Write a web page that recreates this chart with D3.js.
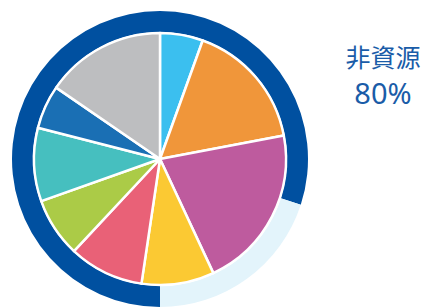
<!DOCTYPE html>
<html>
<head>
<meta charset="utf-8">
<script src="https://cdn.jsdelivr.net/npm/d3@7"></script>
<style>
  body { margin: 0; background: #fff; }
  svg { display: block; }
</style>
</head>
<body>
<svg class="displayContext" width="425" height="307"></svg>
<script>
// slices clockwise from 12 o'clock
var sliceValues = [5.5, 16.5, 21, 9.3, 9.6, 7.6, 9.4, 5.6, 15.4];
var sliceColours = ["#3bbfef", "#f0963a", "#be5b9e", "#fbc933", "#e96177",
                    "#abcb47", "#46bfbf", "#1a6fb4", "#bdbec0"];

// outer ring: share of non-resource vs rest
var ringValues  = [80, 20];
var ringColours = ["#0050a0", "#e3f4fb"];
var ringLabel   = "非資源";
var ringPct     = "80%";

function drawChart(){

  var svg = d3.select(".displayContext");

  var cx = 160, cy = 159;
  var g = svg.append("g").attr("transform", "translate(" + cx + "," + cy + ")");

  // ring starts at 6 o'clock and runs clockwise
  var ringPie = d3.pie().sort(null)
    .startAngle(Math.PI)
    .endAngle(Math.PI * 3);

  var ringArc = d3.arc().innerRadius(127).outerRadius(148);

  g.selectAll("path.ring")
    .data(ringPie(ringValues))
    .enter().append("path")
    .attr("class", "ring")
    .attr("d", ringArc)
    .attr("fill", function(d, i) { return ringColours[i]; });

  var pie = d3.pie().sort(null);
  var arc = d3.arc().innerRadius(0).outerRadius(126);

  g.selectAll("path.slice")
    .data(pie(sliceValues))
    .enter().append("path")
    .attr("class", "slice")
    .attr("d", arc)
    .attr("fill", function(d, i) { return sliceColours[i]; })
    .attr("stroke", "#fff")
    .attr("stroke-width", 2.5)
    .attr("stroke-linejoin", "round");

  var label = svg.append("text")
    .attr("text-anchor", "middle")
    .attr("fill", "#1a5ca8")
    .style("font-family", "'Noto Sans CJK JP', 'Noto Sans', sans-serif");

  label.append("tspan")
    .attr("x", 383).attr("y", 67)
    .style("font-size", "25px")
    .text(ringLabel);

  label.append("tspan")
    .attr("x", 383).attr("y", 104)
    .style("font-size", "29px")
    .style("font-family", "'Noto Sans', sans-serif")
    .text(ringPct);
}

drawChart();
</script>
</body>
</html>
